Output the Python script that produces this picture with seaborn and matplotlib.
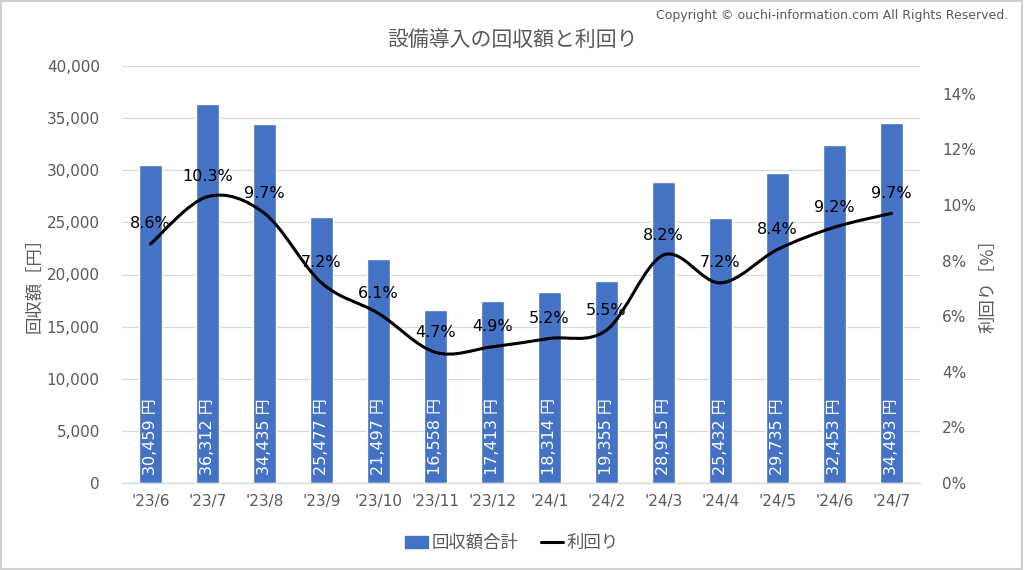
import numpy as np
import pandas as pd
import matplotlib
matplotlib.use("Agg")
import matplotlib.pyplot as plt
import seaborn as sns
from matplotlib.path import Path
from matplotlib.patches import PathPatch, Patch, Rectangle
from matplotlib.lines import Line2D
from matplotlib.ticker import FuncFormatter, FixedLocator, MultipleLocator

months = ["'23/6", "'23/7", "'23/8", "'23/9", "'23/10", "'23/11", "'23/12",
          "'24/1", "'24/2", "'24/3", "'24/4", "'24/5", "'24/6", "'24/7"]
amounts = [30459, 36312, 34435, 25477, 21497, 16558, 17413,
           18314, 19355, 28915, 25432, 29735, 32453, 34493]
yields = [8.6, 10.3, 9.7, 7.2, 6.1, 4.7, 4.9, 5.2, 5.5, 8.2, 7.2, 8.4, 9.2, 9.7]

title = "設備導入の回収額と利回り"
copyright_text = "Copyright © ouchi-information.com All Rights Reserved."
left_label = "回収額［円］"
right_label = "利回り［%］"
bar_name = "回収額合計"
line_name = "利回り"

sns.set_theme(style="white")
plt.rcParams['font.family'] = ['DejaVu Sans', 'Noto Sans CJK JP']

BLUE = "#4472C4"
GRAY = "#595959"
GRID = "#D9D9D9"
CJK = ['Noto Sans CJK JP', 'DejaVu Sans']

fig = plt.figure(figsize=(10.24, 5.70), dpi=100)
ax = fig.add_axes([122/1024, 1-483/570, (920-122)/1024, (483-66)/570])

df = pd.DataFrame({"month": months, "amount": amounts})
sns.barplot(data=df, x="month", y="amount", color=BLUE, width=0.4,
            saturation=1, ax=ax, zorder=2)
ax.set_xlim(-0.5, len(months) - 0.5)
ax.set_ylim(0, 40000)
ax.yaxis.set_major_locator(MultipleLocator(5000))
ax.yaxis.set_major_formatter(FuncFormatter(lambda v, p: f"{int(v):,}"))
ax.grid(axis="y", color=GRID, linewidth=0.9, zorder=0)
ax.set_axisbelow(True)
for s in ["top", "left", "right"]:
    ax.spines[s].set_visible(False)
ax.spines["bottom"].set_color(GRID)
ax.spines["bottom"].set_linewidth(1.0)
ax.tick_params(axis="y", length=0, pad=16, labelsize=11, labelcolor=GRAY)
ax.tick_params(axis="x", which="major", length=0, pad=8, labelsize=11, labelcolor=GRAY)
ax.xaxis.set_minor_locator(FixedLocator(np.arange(-0.5, len(months), 1.0)))
ax.tick_params(axis="x", which="minor", length=5, color=GRID, width=1.0)
ax.set_xlabel("")
ax.set_ylabel(left_label, fontsize=12.5, color=GRAY, family=CJK)
ax.yaxis.set_label_coords((43 - 122) / 798, (483 - 281) / 417)

for i, v in enumerate(amounts):
    ax.annotate(f"{v:,} 円", xy=(i, 0), xytext=(0, 6), textcoords="offset points",
                rotation=90, ha="center", va="bottom", color="white", fontsize=11.5,
                zorder=3)

ax2 = ax.twinx()
ax2.set_ylim(0, 15)
ax2.yaxis.set_major_locator(FixedLocator(np.arange(0, 15, 2)))
ax2.yaxis.set_major_formatter(FuncFormatter(lambda v, p: f"{int(v)}%"))
for s in ["top", "left", "right", "bottom"]:
    ax2.spines[s].set_visible(False)
ax2.tick_params(axis="y", length=0, pad=16, labelsize=11, labelcolor=GRAY)
ax2.set_ylabel(right_label, fontsize=12.5, color=GRAY, rotation=90, family=CJK)
ax2.yaxis.set_label_coords((980 - 122) / 798, (483 - 282) / 417)
ax2.grid(False)

# smoothed line (Catmull-Rom -> cubic Bezier) through the data points
xs = np.arange(len(yields), dtype=float)
ys = np.array(yields, dtype=float)
pts = np.column_stack([xs, ys])
verts = [tuple(pts[0])]
codes = [Path.MOVETO]
n = len(pts)
for i in range(n - 1):
    p0 = pts[i - 1] if i > 0 else pts[i]
    p1 = pts[i]
    p2 = pts[i + 1]
    p3 = pts[i + 2] if i + 2 < n else pts[i + 1]
    c1 = p1 + (p2 - p0) / 6.0
    c2 = p2 - (p3 - p1) / 6.0
    verts += [tuple(c1), tuple(c2), tuple(p2)]
    codes += [Path.CURVE4] * 3
ax2.add_patch(PathPatch(Path(verts, codes), facecolor="none", edgecolor="black",
                        linewidth=2.2, capstyle="round", joinstyle="round", zorder=4))

for i, v in enumerate(yields):
    ax2.annotate(f"{v:.1f}%", xy=(i, v), xytext=(0, 9), textcoords="offset points",
                 ha="center", va="bottom", color="black", fontsize=11.5, zorder=5)

fig.text(0.5, 1 - 40/570, title, ha="center", va="center", fontsize=15,
         color=GRAY, family=CJK)
fig.text(1008/1024, 1 - 15/570, copyright_text, ha="right", va="center",
         fontsize=9, color=GRAY)

handles = [Patch(facecolor=BLUE, edgecolor=BLUE),
           Line2D([0], [0], color="black", linewidth=2.2)]
fig.legend(handles, [bar_name, line_name], loc="center", bbox_to_anchor=(0.5, 1 - 543/570),
           ncol=2, frameon=False, prop={'family': CJK, 'size': 12.5}, labelcolor=GRAY,
           handlelength=1.3, handletextpad=0.2, columnspacing=1.3)

fig.patches.append(Rectangle((0.001, 0.002), 0.997, 0.996, transform=fig.transFigure,
                             fill=False, edgecolor="#D0D0D0", linewidth=1.5))

fig.savefig("out.png", dpi=100)
